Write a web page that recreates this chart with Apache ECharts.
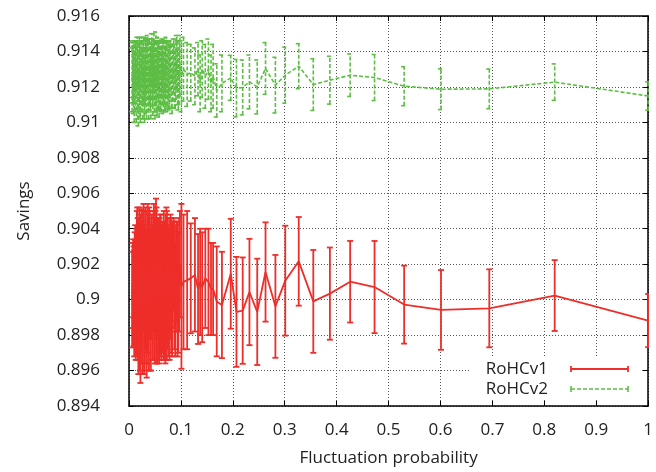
<!DOCTYPE html>
<html><head><meta charset="utf-8">
<script src="https://cdn.jsdelivr.net/npm/echarts@6/dist/echarts.min.js"></script>
<style>html,body{margin:0;padding:0;background:#fff}#c{width:656px;height:472px}</style>
</head><body><div id="c"></div>
<script>
// Fluctuation probability (x)
const xs = [
 0.006,0.007,0.008,0.009,0.010,0.011,0.012,0.013,0.014,0.015,
 0.016,0.017,0.018,0.019,0.020,0.021,0.022,0.023,0.024,0.025,
 0.026,0.027,0.028,0.029,0.030,0.031,0.032,0.033,0.034,0.035,
 0.036,0.037,0.038,0.039,0.040,0.041,0.042,0.043,0.044,0.045,
 0.046,0.047,0.048,0.049,0.050,0.051,0.052,0.053,0.054,0.055,
 0.056,0.057,0.058,0.059,0.060,0.061,0.062,0.063,0.064,0.065,
 0.066,0.067,0.068,0.069,0.070,0.071,0.072,0.073,0.074,0.075,
 0.076,0.077,0.078,0.079,0.080,0.0815,0.083,0.0845,0.086,0.0875,
 0.089,0.0905,0.092,0.0935,0.095,0.0965,0.098,
 0.101,0.105,0.112,0.119,0.127,0.133,0.137,0.141,0.147,0.153,0.158,0.162,0.169,0.179,
 0.196,0.207,0.219,0.232,0.247,0.263,0.282,0.301,0.327,0.355,0.387,0.426,0.473,0.530,0.601,0.694,0.820,1.000
];
// RoHCv1 savings (mean) and error
const v1Mean = [
 0.9000,0.9008,0.9012,0.9002,0.8998,0.9010,0.9016,0.9000,0.9004,0.9018,
 0.9022,0.9006,0.8996,0.9010,0.9014,0.9002,0.8992,0.9012,0.9020,0.9004,
 0.8998,0.9016,0.9018,0.9000,0.8996,0.9014,0.9012,0.9002,0.8994,0.9010,
 0.9020,0.9006,0.9000,0.9018,0.9014,0.9000,0.8996,0.9012,0.9018,0.9004,
 0.9002,0.9016,0.9022,0.9006,0.8998,0.9014,0.9024,0.9008,0.9000,0.9012,
 0.9016,0.9004,0.8998,0.9014,0.9020,0.9008,0.9004,0.9012,0.9018,0.9006,
 0.9000,0.9016,0.9014,0.9004,0.8998,0.9012,0.9022,0.9008,0.9004,0.9014,
 0.9016,0.9004,0.8998,0.9012,0.9018,0.9008,0.9002,0.9014,0.9020,0.9008,
 0.9000,0.9012,0.9016,0.9006,0.9004,0.9014,0.9020,
 0.90075,0.9010,0.9011,0.9012,0.9014,0.9006,0.9010,0.9007,0.9012,0.9010,0.9006,0.9006,0.8999,0.8997,
 0.90146,0.89931,0.89938,0.90043,0.89931,0.90156,0.89962,0.90107,0.90216,0.89990,0.90034,0.90101,0.90071,0.89972,0.89942,0.89951,0.90023,0.89882
];
const v1Err = [
 0.0027,0.0024,0.0022,0.0028,0.0030,0.0028,0.0026,0.0034,0.0036,0.0032,
 0.0030,0.0040,0.0038,0.0036,0.0038,0.0042,0.0039,0.0036,0.0031,0.0040,
 0.0040,0.0034,0.0036,0.0042,0.0036,0.0036,0.0040,0.0038,0.0038,0.0040,
 0.0034,0.0042,0.0040,0.0034,0.0036,0.0040,0.0036,0.0034,0.0030,0.0038,
 0.0036,0.0034,0.0032,0.0040,0.0034,0.0036,0.0033,0.0044,0.0036,0.0034,
 0.0030,0.0038,0.0034,0.0032,0.0028,0.0040,0.0038,0.0030,0.0026,0.0036,
 0.0034,0.0034,0.0030,0.0038,0.0034,0.0036,0.0030,0.0042,0.0032,0.0032,
 0.0026,0.0036,0.0032,0.0034,0.0030,0.0038,0.0034,0.0030,0.0026,0.0036,
 0.0032,0.0030,0.0028,0.0038,0.0034,0.0032,0.0030,
 0.00465,0.0038,0.0039,0.0031,0.0032,0.0031,0.0030,0.0031,0.0028,0.0030,0.0026,0.0026,0.0031,0.0030,
 0.0031,0.0031,0.0030,0.0030,0.0030,0.0028,0.0029,0.0031,0.0025,0.0029,0.0026,0.0023,0.0026,0.0022,0.00225,0.0022,0.0020,0.0015
];
// RoHCv2 savings (mean) and error
const v2Mean = [
 0.9124,0.9128,0.9130,0.9124,0.9120,0.9128,0.9132,0.9126,0.9122,0.9130,
 0.9134,0.9124,0.9118,0.9126,0.9130,0.9124,0.9120,0.9130,0.9134,0.9126,
 0.9122,0.9128,0.9130,0.9122,0.9118,0.9128,0.9132,0.9126,0.9122,0.9130,
 0.9134,0.9126,0.9120,0.9128,0.9130,0.9126,0.9122,0.9130,0.9136,0.9128,
 0.9124,0.9130,0.9134,0.9126,0.9120,0.9128,0.9132,0.9126,0.9122,0.9130,
 0.9134,0.9126,0.9120,0.9126,0.9130,0.9126,0.9124,0.9130,0.9134,0.9128,
 0.9122,0.9128,0.9132,0.9126,0.9124,0.9130,0.9134,0.9128,0.9122,0.9126,
 0.9130,0.9126,0.9124,0.9130,0.9132,0.9126,0.9122,0.9128,0.9132,0.9126,
 0.9124,0.9130,0.9134,0.9128,0.9124,0.9128,0.9132,
 0.9126,0.9130,0.9127,0.9128,0.9126,0.9130,0.9122,0.9130,0.9126,0.9130,0.9122,0.9126,0.9118,0.9122,
 0.91251,0.91193,0.91197,0.91228,0.91200,0.91304,0.91210,0.91266,0.91317,0.91213,0.91238,0.91266,0.91253,0.91204,0.91187,0.91189,0.91227,0.91149
];
const v2Err = [
 0.0018,0.0017,0.0016,0.0019,0.0020,0.0017,0.0014,0.0020,0.0022,0.0016,
 0.0014,0.0022,0.0020,0.0018,0.0018,0.0021,0.0020,0.0016,0.0014,0.0020,
 0.0020,0.0018,0.0018,0.0020,0.0018,0.0018,0.0016,0.0021,0.0020,0.0017,
 0.0015,0.0020,0.0018,0.0018,0.0017,0.0019,0.0020,0.0017,0.0014,0.0019,
 0.0020,0.0017,0.0016,0.0020,0.0018,0.0018,0.0019,0.0020,0.0018,0.0016,
 0.0014,0.0018,0.0017,0.0019,0.0016,0.0019,0.0018,0.0016,0.0013,0.0018,
 0.0017,0.0017,0.0015,0.0019,0.0018,0.0016,0.0014,0.0018,0.0016,0.0017,
 0.0015,0.0018,0.0017,0.0016,0.0014,0.0018,0.0017,0.0016,0.0015,0.0018,
 0.0016,0.0017,0.0015,0.0018,0.0017,0.0018,0.0017,
 0.0020,0.0018,0.0018,0.0016,0.0016,0.0015,0.0016,0.0016,0.0018,0.0017,0.0016,0.0018,0.0015,0.0016,
 0.00127,0.00162,0.00155,0.00152,0.00152,0.00146,0.00157,0.00158,0.00127,0.00146,0.00135,0.0012,0.0013,0.0011,0.00115,0.00112,0.00103,0.0008
];
const seriesNames = ['RoHCv1','RoHCv2'];
const xAxisTitle = 'Fluctuation probability';
const yAxisTitle = 'Savings';

const RED = '#ee2e2a', GREEN = '#5dbd45';
const FONT = '"Open Sans", sans-serif';
const TXT = '#222';

function errRender(color, dashed, lw){
  return function(params, api){
    const x = api.value(0), lo = api.value(1), hi = api.value(2);
    const p1 = api.coord([x, lo]), p2 = api.coord([x, hi]);
    const cw = 3;
    const st = {stroke: color, lineWidth: lw, fill: null};
    if (dashed) st.lineDash = [4, 2];
    return {type:'group', children:[
      {type:'line', shape:{x1:p1[0],y1:p1[1],x2:p2[0],y2:p2[1]}, style: st},
      {type:'line', shape:{x1:p1[0]-cw,y1:p1[1],x2:p1[0]+cw,y2:p1[1]}, style: st},
      {type:'line', shape:{x1:p2[0]-cw,y1:p2[1],x2:p2[0]+cw,y2:p2[1]}, style: st}
    ]};
  };
}
const errData1 = xs.map((x,i)=>[x, v1Mean[i]-v1Err[i], v1Mean[i]+v1Err[i]]);
const errData2 = xs.map((x,i)=>[x, v2Mean[i]-v2Err[i], v2Mean[i]+v2Err[i]]);
const line1 = xs.map((x,i)=>[x, v1Mean[i]]);
const line2 = xs.map((x,i)=>[x, v2Mean[i]]);

const gridLine = {show:true, lineStyle:{color:'#555', type:[1,2], width:1}};
const tick = {show:true, inside:true, length:5, lineStyle:{color:'#000', width:1}};
const chart = echarts.init(document.getElementById('c'));
chart.setOption({
  animation:false,
  backgroundColor:'#fff',
  grid:{left:129, right:3, top:16, bottom:65},
  xAxis:[{
    type:'value', min:0, max:1, interval:0.1, position:'bottom',
    name:xAxisTitle, nameLocation:'middle', nameGap:44,
    nameTextStyle:{fontFamily:FONT, fontSize:17, color:TXT},
    axisLine:{show:true, onZero:false, lineStyle:{color:'#000', width:1.5}},
    axisTick:tick, splitLine:gridLine,
    axisLabel:{fontFamily:FONT, fontSize:17, color:TXT, margin:16,
      formatter:v=>String(+v.toFixed(3))}
  },{
    type:'value', min:0, max:1, interval:0.1, position:'top',
    axisLine:{show:true, onZero:false, lineStyle:{color:'#000', width:1.5}},
    axisTick:tick, splitLine:{show:false}, axisLabel:{show:false}
  }],
  yAxis:[{
    type:'value', min:0.894, max:0.916, interval:0.002, position:'left',
    name:yAxisTitle, nameLocation:'middle', nameGap:96, nameRotate:90,
    nameTextStyle:{fontFamily:FONT, fontSize:17, color:TXT},
    axisLine:{show:true, onZero:false, lineStyle:{color:'#000', width:1.5}},
    axisTick:tick, splitLine:gridLine,
    axisLabel:{fontFamily:FONT, fontSize:17, color:TXT, margin:29,
      formatter:v=>String(+v.toFixed(3))}
  },{
    type:'value', min:0.894, max:0.916, interval:0.002, position:'right',
    axisLine:{show:true, onZero:false, lineStyle:{color:'#000', width:1.5}},
    axisTick:tick, splitLine:{show:false}, axisLabel:{show:false}
  }],
  series:[
    {name:seriesNames[0]+' err', type:'custom', renderItem:errRender(RED,false,1.8),
     data:errData1, encode:{x:0, y:[1,2]}, clip:true, z:2},
    {name:seriesNames[0], type:'line', data:line1, showSymbol:false,
     lineStyle:{color:RED, width:1.8}, itemStyle:{color:RED}, z:3},
    {name:seriesNames[1]+' err', type:'custom', renderItem:errRender(GREEN,true,1.6),
     data:errData2, encode:{x:0, y:[1,2]}, clip:true, z:2},
    {name:seriesNames[1], type:'line', data:line2, showSymbol:false,
     lineStyle:{color:GREEN, width:1.6, type:[4,2]}, itemStyle:{color:GREEN}, z:3}
  ],
  graphic:[
    {type:'rect', shape:{x:470, y:358, width:170, height:42}, style:{fill:'#fff'}, z:10},
    {type:'text', x:548, y:369, style:{text:seriesNames[0], textAlign:'right', textVerticalAlign:'middle', font:'17px '+FONT, fill:TXT}, z:11},
    {type:'line', shape:{x1:571,y1:369,x2:628,y2:369}, style:{stroke:RED, lineWidth:1.8}, z:11},
    {type:'line', shape:{x1:571,y1:366,x2:571,y2:372}, style:{stroke:RED, lineWidth:1.8}, z:11},
    {type:'line', shape:{x1:628,y1:366,x2:628,y2:372}, style:{stroke:RED, lineWidth:1.8}, z:11},
    {type:'text', x:548, y:389, style:{text:seriesNames[1], textAlign:'right', textVerticalAlign:'middle', font:'17px '+FONT, fill:TXT}, z:11},
    {type:'line', shape:{x1:571,y1:389,x2:628,y2:389}, style:{stroke:GREEN, lineWidth:1.6, lineDash:[4,2]}, z:11},
    {type:'line', shape:{x1:571,y1:386,x2:571,y2:392}, style:{stroke:GREEN, lineWidth:1.6}, z:11},
    {type:'line', shape:{x1:628,y1:386,x2:628,y2:392}, style:{stroke:GREEN, lineWidth:1.6}, z:11}
  ]
});
</script></body></html>
